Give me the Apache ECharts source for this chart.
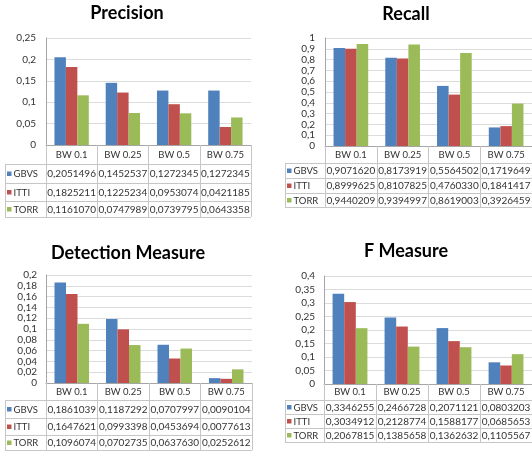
<!DOCTYPE html>
<html><head><meta charset="utf-8">
<script src="https://cdn.jsdelivr.net/npm/echarts@6/dist/echarts.min.js"></script>
<style>html,body{margin:0;padding:0;background:#fff}#c{width:532px;height:457px}</style>
</head><body><div id="c"></div>
<script>
// ---- data ----
const categories = ['BW 0.1', 'BW 0.25', 'BW 0.5', 'BW 0.75'];
const seriesNames = ['GBVS', 'ITTI', 'TORR'];

const precisionGBVS = [0.2051496, 0.1452537, 0.1272345, 0.1272345];
const precisionITTI = [0.1825211, 0.1225234, 0.0953074, 0.0421185];
const precisionTORR = [0.1161070, 0.0747989, 0.0739795, 0.0643358];

const recallGBVS = [0.9071620, 0.8173919, 0.5564502, 0.1719649];
const recallITTI = [0.8999625, 0.8107825, 0.4760330, 0.1841417];
const recallTORR = [0.9440209, 0.9394997, 0.8619003, 0.3926459];

const detectionGBVS = [0.1861039, 0.1187292, 0.0707997, 0.0090104];
const detectionITTI = [0.1647621, 0.0993398, 0.0453694, 0.0077613];
const detectionTORR = [0.1096074, 0.0702735, 0.0637630, 0.0252612];

const fmeasureGBVS = [0.3346255, 0.2466728, 0.2071121, 0.0803203];
const fmeasureITTI = [0.3034912, 0.2128774, 0.1588177, 0.0685653];
const fmeasureTORR = [0.2067815, 0.1385658, 0.1362632, 0.1105567];

// value axis ranges: [min, max, interval]
const precisionAxis = [0, 0.25, 0.05];
const recallAxis = [0, 1, 0.1];
const detectionAxis = [0, 0.2, 0.02];
const fmeasureAxis = [0, 0.4, 0.05];

// ---- layout / style ----
const colors = ['#4F81BD', '#C0504D', '#9BBB59'];
const FONT = 'Lato, "Open Sans", sans-serif';
const panels = [
  { title: 'Precision', data: [precisionGBVS, precisionITTI, precisionTORR], axis: precisionAxis,
    tx: 127, ty: 4, L: 5, GL: 46, GW: 205, top: 38, AY: 145, rows: [164, 183, 201, 217], lm: 5, ym: 10 },
  { title: 'Recall', data: [recallGBVS, recallITTI, recallTORR], axis: recallAxis,
    tx: 406, ty: 5, L: 285, GL: 325, GW: 207, top: 38, AY: 146, rows: [163, 178, 193, 207], lm: 4, ym: 10 },
  { title: 'Detection Measure', data: [detectionGBVS, detectionITTI, detectionTORR], axis: detectionAxis,
    tx: 128, ty: 244, L: 5, GL: 46, GW: 206, top: 275, AY: 383, rows: [400, 418, 435, 450], lm: 4, ym: 9 },
  { title: 'F Measure', data: [fmeasureGBVS, fmeasureITTI, fmeasureTORR], axis: fmeasureAxis,
    tx: 406, ty: 242, L: 285, GL: 324, GW: 208, top: 276, AY: 384, rows: [400, 414, 428, 442], lm: 3, ym: 9 }
];

const fmtAxis = v => String(+v.toFixed(4)).replace('.', ',');
const fmtVal = v => v.toFixed(7).replace('.', ',');

const title = [], grid = [], xAxis = [], yAxis = [], series = [], graphic = [];
const TABLE_LINE = '#c6c6c6';

panels.forEach((p, i) => {
  title.push({ text: p.title, left: p.tx, top: p.ty, textAlign: 'center', textVerticalAlign: 'top', padding: 0,
    textStyle: { fontFamily: FONT, fontSize: 18, fontWeight: 'bold', color: '#000' } });
  grid.push({ left: p.GL, top: p.top, width: p.GW, height: p.AY - p.top, containLabel: false });
  xAxis.push({ type: 'category', gridIndex: i, data: categories,
    axisLine: { lineStyle: { color: '#a6a6a6' } },
    axisTick: { show: true, length: p.rows[3] - p.AY, lineStyle: { color: TABLE_LINE } },
    axisLabel: { interval: 0, margin: p.lm, fontFamily: FONT, fontSize: 9.5, color: '#333' } });
  yAxis.push({ type: 'value', gridIndex: i, min: p.axis[0], max: p.axis[1], interval: p.axis[2],
    axisLine: { show: true, lineStyle: { color: '#a6a6a6' } },
    axisTick: { show: false },
    splitLine: { lineStyle: { color: '#dcdcdc' } },
    axisLabel: { formatter: fmtAxis, margin: p.ym, fontFamily: FONT, fontSize: 10, color: '#333' } });
  seriesNames.forEach((name, k) => {
    series.push({ type: 'bar', name, xAxisIndex: i, yAxisIndex: i, data: p.data[k],
      barGap: '0%', barCategoryGap: '33%', itemStyle: { color: colors[k] }, animation: false });
  });
  // data table
  const right = p.GL + p.GW;
  p.rows.forEach(y => graphic.push({ type: 'line', silent: true,
    shape: { x1: p.L, y1: y + 0.5, x2: right, y2: y + 0.5 }, style: { stroke: TABLE_LINE, lineWidth: 1 } }));
  graphic.push({ type: 'line', silent: true, shape: { x1: p.L + 0.5, y1: p.rows[0], x2: p.L + 0.5, y2: p.rows[3] },
    style: { stroke: TABLE_LINE, lineWidth: 1 } });
  seriesNames.forEach((name, k) => {
    const mid = (p.rows[k] + p.rows[k + 1]) / 2 + 0.5;
    graphic.push({ type: 'rect', silent: true, shape: { x: p.L + 2, y: mid - 2.5, width: 4.5, height: 4.5 },
      style: { fill: colors[k] } });
    graphic.push({ type: 'text', silent: true, x: p.L + 8.5, y: mid,
      style: { text: name, fontFamily: FONT, fontSize: 9.5, fill: '#333', align: 'left', verticalAlign: 'middle' } });
    p.data[k].forEach((v, j) => {
      graphic.push({ type: 'text', silent: true, x: p.GL + (j + 0.5) * p.GW / 4, y: mid,
        style: { text: fmtVal(v), fontFamily: FONT, fontSize: 10, fill: '#333', align: 'center', verticalAlign: 'middle' } });
    });
  });
});

const chart = echarts.init(document.getElementById('c'), null, { renderer: 'canvas' });
chart.setOption({ backgroundColor: '#fff', animation: false, title, grid, xAxis, yAxis, series, graphic });
</script>
</body></html>
